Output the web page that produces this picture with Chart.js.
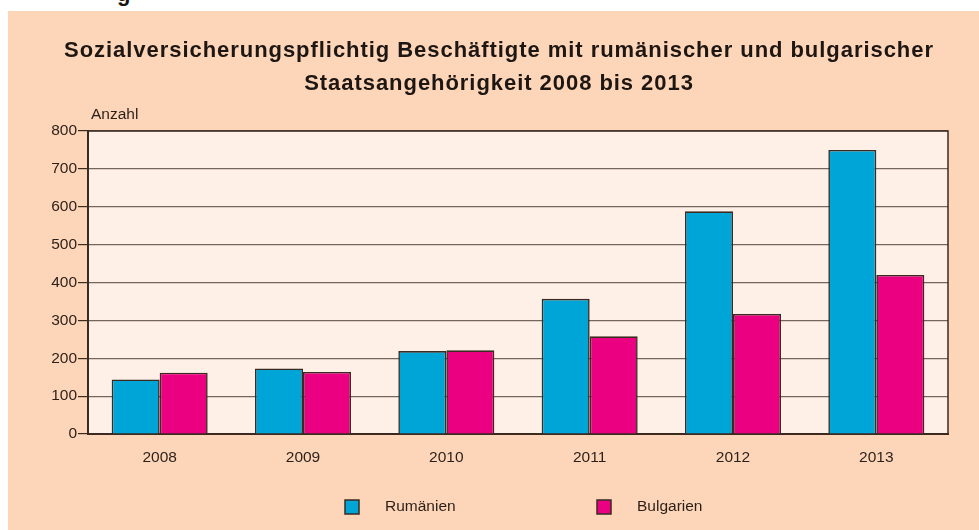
<!DOCTYPE html>
<html>
<head>
<meta charset="utf-8">
<script src="https://cdn.jsdelivr.net/npm/chart.js@4/dist/chart.umd.min.js"></script>
<style>
    body { margin: 0; background: #fff; width: 979px; height: 530px; overflow: hidden; position: relative; font-family: "Liberation Sans", Arial, sans-serif; }
    .panel { position: absolute; left: 8px; top: 11px; right: 0; bottom: 0; background: #fdd6ba; }
    .cut { position: absolute; left: 117px; top: -19px; font-size: 22px; font-weight: bold; color: #1a1410; }
    .wrap { position: absolute; left: 0; top: 0; width: 979px; height: 530px; }
</style>
</head>
<body>
<div class="cut">g</div>
<div class="panel"></div>
<div class="wrap"><canvas id="myChart" width="979" height="530"></canvas></div>
<script>
const years = ['2008', '2009', '2010', '2011', '2012', '2013'];
const rumaenien = [144, 173, 219, 357, 588, 750];
const bulgarien = [162, 164, 221, 258, 317, 420];
const seriesLabels = ['Rumänien', 'Bulgarien'];
const seriesColors = ['#00a5d8', '#ec0082'];
const yTicks = [0, 100, 200, 300, 400, 500, 600, 700, 800];
const titleLines = ['Sozialversicherungspflichtig Beschäftigte mit rumänischer und bulgarischer', 'Staatsangehörigkeit 2008 bis 2013'];

const dark = '#3a2a20';
const textColor = '#2b1f18';
const fontFamily = '"Liberation Sans", Arial, sans-serif';

// plot background + frame, title (needs letter spacing), "Anzahl" and the legend row
const extras = {
    id: 'extras',
    beforeDraw(chart) {
        // grid must sit on the plot background, so paint it first
        const a = chart.chartArea;
        const ctx = chart.ctx;
        ctx.save();
        ctx.fillStyle = '#fef0e6';
        ctx.fillRect(a.left, a.top, a.right - a.left, a.bottom - a.top);
        ctx.restore();
    },
    afterDraw(chart) {
        const a = chart.chartArea;
        const ctx = chart.ctx;
        ctx.save();
        ctx.strokeStyle = dark;
        ctx.lineWidth = 1.5;
        ctx.beginPath();
        ctx.moveTo(a.left, a.top);
        ctx.lineTo(a.right, a.top);
        ctx.lineTo(a.right, a.bottom);
        ctx.stroke();

        // title
        ctx.fillStyle = '#1e1612';
        ctx.font = 'bold 22px ' + fontFamily;
        ctx.letterSpacing = '0.95px';
        ctx.textAlign = 'center';
        ctx.textBaseline = 'alphabetic';
        ctx.fillText(titleLines[0], 499, 57);
        ctx.fillText(titleLines[1], 499, 90);
        ctx.letterSpacing = '0px';

        ctx.fillStyle = textColor;
        ctx.font = '15.5px ' + fontFamily;
        ctx.textBaseline = 'middle';
        ctx.textAlign = 'left';
        ctx.fillText('Anzahl', a.left + 3, a.top - 16);

        const legendX = [345, 597];
        const legendY = 500;
        chart.data.datasets.forEach((ds, i) => {
            ctx.fillStyle = ds.backgroundColor;
            ctx.fillRect(legendX[i], legendY, 14, 14);
            ctx.strokeStyle = dark;
            ctx.lineWidth = 1.5;
            ctx.strokeRect(legendX[i], legendY, 14, 14);
            ctx.fillStyle = textColor;
            ctx.fillText(ds.label, legendX[i] + 40, legendY + 7);
        });
        ctx.restore();
    }
};

const ctx = document.getElementById('myChart').getContext('2d');

const chartInstance = new Chart(ctx, {
    type: 'bar',
    data: {
        labels: years,
        datasets: [
            { label: seriesLabels[0], data: rumaenien, backgroundColor: seriesColors[0] },
            { label: seriesLabels[1], data: bulgarien, backgroundColor: seriesColors[1] }
        ]
    },
    options: {
        responsive: false,
        animation: false,
        devicePixelRatio: 1,
        layout: { padding: { left: 48, right: 31, top: 131, bottom: 56 } },
        datasets: {
            bar: {
                categoryPercentage: 0.67,
                barPercentage: 1.0,
                borderColor: dark,
                borderWidth: 1.6,
                borderSkipped: 'start'
            }
        },
        plugins: {
            legend: { display: false },
            tooltip: { enabled: false },
            title: { display: false }
        },
        scales: {
            x: {
                afterFit(scale) { scale.height = 40; },
                grid: { display: false },
                border: { display: true, color: dark, width: 2 },
                ticks: {
                    color: textColor,
                    padding: 6,
                    font: { family: fontFamily, size: 15.5 }
                }
            },
            y: {
                min: 0,
                max: 800,
                afterFit(scale) { scale.width = 40; },
                afterBuildTicks(scale) { scale.ticks = yTicks.map(v => ({ value: v })); },
                grid: { color: '#75665b', lineWidth: 1.2, tickLength: 10, tickColor: dark },
                border: { display: true, color: dark, width: 2 },
                ticks: {
                    color: textColor,
                    padding: 1,
                    font: { family: fontFamily, size: 15.5 }
                }
            }
        }
    },
    plugins: [extras]
});
</script>
</body>
</html>
